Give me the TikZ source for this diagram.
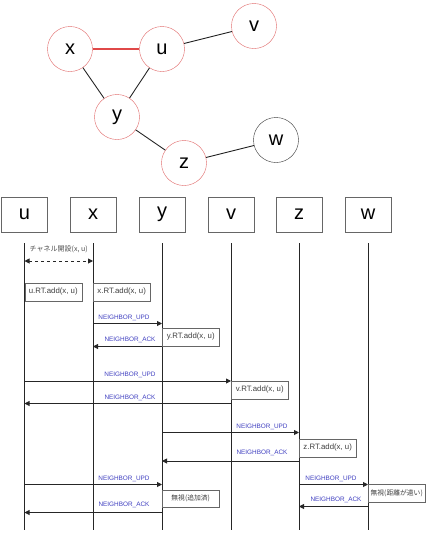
\documentclass[tikz,border=0pt]{standalone}
\usepackage{fontspec}
\setmainfont{Liberation Sans}
\newfontfamily\jp{Noto Sans CJK JP}
\usepackage{xcolor}
\usetikzlibrary{arrows.meta,positioning}
\definecolor{redx}{HTML}{E06666}
\definecolor{redl}{HTML}{E04848}
\definecolor{bluex}{HTML}{3F3FC0}
\definecolor{boxgray}{HTML}{666666}
\tikzset{
  vert/.style={circle,draw=redx,fill=white,minimum size=45,inner sep=0pt,font=\fontsize{20}{24}\selectfont},
  hdr/.style={draw=boxgray,minimum width=46,minimum height=35,inner sep=0pt,font=\fontsize{20}{24}\selectfont},
  life/.style={line width=1pt,black!85},
  msg/.style={-{Triangle[length=5pt,width=5pt]},line width=0.9pt,black!85},
  lbl/.style={text=bluex,font=\fontsize{6.4}{8}\selectfont,inner sep=0pt},
  note/.style={draw=boxgray,fill=white,anchor=north west,minimum width=57,minimum height=17.5,inner sep=1pt,text=black!75,font=\fontsize{7.8}{9}\selectfont}
}
\begin{document}
\begin{tikzpicture}[x=1pt,y=-1pt]
\useasboundingbox (0,0) rectangle (428,550);
% graph
\node[vert] (x) at (70,49) {x};
\node[vert] (u) at (162,49) {u};
\node[vert] (v) at (254,26) {v};
\node[vert] (y) at (117,117) {y};
\node[vert] (z) at (184,163) {z};
\node[vert,draw=black!80] (w) at (276,140) {w};
\draw[redl,line width=1.1pt] (x) -- (u);
\draw[black!85,line width=0.9pt] (u) -- (v) (x) -- (y) (u) -- (y) (y) -- (z) (z) -- (w);
% header boxes
\node[hdr] (hu) at (24.5,214.5) {u};
\node[hdr] (hx) at (93,214.5) {x};
\node[hdr] (hy) at (162,214.5) {y};
\node[hdr] (hv) at (231,214.5) {v};
\node[hdr] (hz) at (299,214.5) {z};
\node[hdr] (hw) at (368,214.5) {w};
% lifelines
\foreach \n in {hu,hx,hy,hv,hz,hw}
  \draw[life] (\n |- 0,243) -- (\n |- 0,530);
% channel
\draw[{Triangle[length=5pt,width=5pt]}-{Triangle[length=5pt,width=5pt]},dashed,line width=0.9pt,black!85] (hu |- 0,261) -- (hx |- 0,261);
\node[font=\jp\fontsize{7}{8}\selectfont,text=black!70,inner sep=0pt] (ch) at (58.7,249) {チャネル開設(x, u)};
% notes
\node[note] (nu) at (hu |- 0,283) {u.RT.add(x, u)};
\node[note] (nx) at (hx |- 0,283) {x.RT.add(x, u)};
\node[note] (ny) at (hy |- 0,328) {y.RT.add(x, u)};
\node[note] (nv) at (hv |- 0,381) {v.RT.add(x, u)};
\node[note] (nz) at (hz |- 0,439) {z.RT.add(x, u)};
\node[note,font=\jp\fontsize{6.8}{8}\selectfont] (nw) at (hw |- 0,484) {無視(距離が遠い)};
\node[note,font=\jp\fontsize{6.8}{8}\selectfont] (ny2) at (hy |- 0,489.5) {無視(追加済)};
% messages
\draw[msg] (hx |- 0,323.5) -- (hy |- 0,323.5);
\node[lbl] (l1) at (124,318) {NEIGHBOR\_UPD};
\draw[msg] (hy |- 0,346.5) -- (hx |- 0,346.5);
\node[lbl] (l2) at (130,340) {NEIGHBOR\_ACK};
\draw[msg] (hu |- 0,381) -- (hv |- 0,381);
\node[lbl] (l3) at (130,375) {NEIGHBOR\_UPD};
\draw[msg] (hv |- 0,403.5) -- (hu |- 0,403.5);
\node[lbl] (l4) at (130,398) {NEIGHBOR\_ACK};
\draw[msg] (hy |- 0,432.5) -- (hz |- 0,432.5);
\node[lbl] (l5) at (262,427) {NEIGHBOR\_UPD};
\draw[msg] (hz |- 0,461) -- (hy |- 0,461);
\node[lbl] (l6) at (262,453) {NEIGHBOR\_ACK};
\draw[msg] (hz |- 0,484.5) -- (hw |- 0,484.5);
\node[lbl] (l7) at (331,478.5) {NEIGHBOR\_UPD};
\draw[msg] (hw |- 0,506.5) -- (hz |- 0,506.5);
\node[lbl] (l8) at (336,499.5) {NEIGHBOR\_ACK};
\draw[msg] (hu |- 0,484.5) -- (hy |- 0,484.5);
\node[lbl] (l9) at (124,478.5) {NEIGHBOR\_UPD};
\draw[msg] (hy |- 0,512.5) -- (hu |- 0,512.5);
\node[lbl] (l10) at (124,504.5) {NEIGHBOR\_ACK};
\end{tikzpicture}
\end{document}
